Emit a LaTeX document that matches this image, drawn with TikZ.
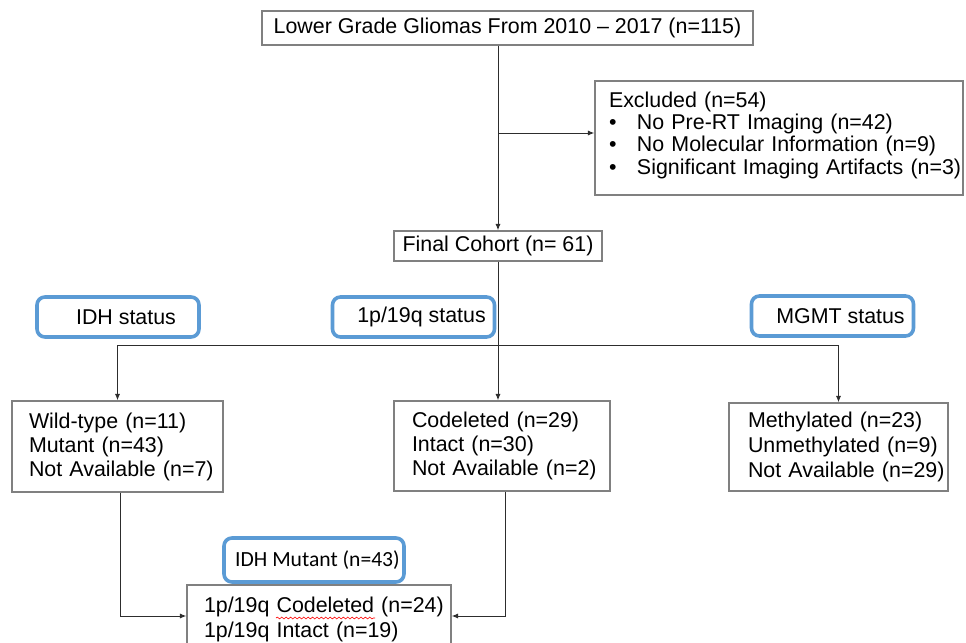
\documentclass[tikz,border=0pt]{standalone}
\usepackage{fontspec}
\setmainfont{Liberation Sans}
\newfontfamily\calibfont{Carlito}
\usetikzlibrary{arrows.meta,decorations.pathmorphing}

\definecolor{boxgray}{RGB}{128,128,128}
\definecolor{linegray}{RGB}{45,45,45}
\definecolor{tagblue}{RGB}{91,155,213}

\tikzset{
  flowbox/.style={draw=boxgray, line width=0.7pt, fill=white, inner sep=0pt,
    font=\fontsize{10.7}{12}\selectfont},
  listbox/.style 2 args={flowbox, text width=#1,
    execute at begin node={\parindent=0pt\leftskip=#2\relax\rightskip=0pt plus 1fil\relax}},
  tagbox/.style={draw=tagblue, line width=1.8pt, rounded corners=4pt, inner sep=0pt,
    minimum width=81pt, minimum height=20pt, font=\fontsize{10.7}{12}\selectfont,
    execute at begin node=\hspace*{8pt}},
  arr/.style={-{Latex[length=3.2pt,width=2.6pt]}, draw=linegray, line width=0.5pt},
}
\newcommand\exbullet{\makebox[14pt][l]{\textbullet}}

\begin{document}
\begin{tikzpicture}[x=0.5pt,y=-0.5pt]
\useasboundingbox (0,0) rectangle (966,643);
\clip (0,0) rectangle (966,643);
\fill[white] (0,0) rectangle (966,643);

% cohort selection
\node[flowbox, minimum width=245.5pt, minimum height=17pt] (top) at (507.5,28)
  {Lower Grade Gliomas From 2010 -- 2017 (n=115)};
\node[listbox={184pt}{7pt}, minimum height=57pt,
  font=\fontsize{10.7}{11.2}\selectfont] (excl) at (779,138)
  {Excluded (n=54)\\
   \exbullet No Pre-RT Imaging (n=42)\\
   \exbullet No Molecular Information (n=9)\\
   \exbullet Significant Imaging Artifacts (n=3)\rule[-5pt]{0pt}{1pt}};
\node[flowbox, minimum width=104pt, minimum height=15pt] (final) at (498,246)
  {Final Cohort (n= 61)};

% status tags
\node[tagbox] (idhlab) at (118,317) {IDH status};
\node[tagbox] (codlab) at (413.5,317) {1p/19q status};
\node[tagbox] (mgmtlab) at (832.5,316) {MGMT status};

% results per marker
\node[listbox={105.5pt}{8.5pt}, minimum height=45.5pt] (idhres) at (117.5,446.5)
  {Wild-type (n=11)\\ Mutant (n=43)\\ Not Available (n=7)};
\node[listbox={108pt}{9pt}, minimum height=45pt] (codres) at (502,446)
  {Codeleted (n=29)\\ Intact (n=30)\\ Not Available (n=2)};
\node[listbox={109.5pt}{9.5pt}, minimum height=44pt,
  font=\fontsize{10.7}{12.4}\selectfont] (mgmtres) at (838.5,447)
  {Methylated (n=23)\\ Unmethylated (n=9)\\ Not Available (n=29)};

% IDH mutant subgroup
\node[tagbox, minimum width=90pt, minimum height=22pt, font=\calibfont\fontsize{10.8}{12}\selectfont,
  execute at begin node=\hspace*{-4.5pt}] (mutlab) at (314,560) {IDH Mutant (n=43)};
\node[listbox={132pt}{8.5pt}, minimum height=31pt,
  font=\fontsize{10.7}{12.5}\selectfont] (mutres) at (319,616)
  {\rule{0pt}{11.5pt}1p/19q Codeleted (n=24)\\ 1p/19q Intact (n=19)};
\draw[red, line width=0.3pt, decorate, decoration={snake, amplitude=0.45pt, segment length=2.2pt}]
  (276,618) -- (375,618);

% connectors
\coordinate (exclin) at ([yshift=2.5pt]excl.west);
\coordinate (split) at (498,345);
\draw[arr] (top.south -| final.north) -- (final.north);
\draw[arr] (exclin -| final.north) -- (exclin);
\draw[draw=linegray, line width=0.5pt] (final.south) -- (split);
\draw[arr] (split) -| (idhres.north);
\draw[arr] (split) -| (mgmtres.north);
\draw[arr] (split) -- (split |- codres.north);
\draw[arr] ([xshift=1.25pt]idhres.south) |- (mutres.west);
\draw[arr] ([xshift=1.5pt]codres.south) |- (mutres.east);
\end{tikzpicture}
\end{document}
